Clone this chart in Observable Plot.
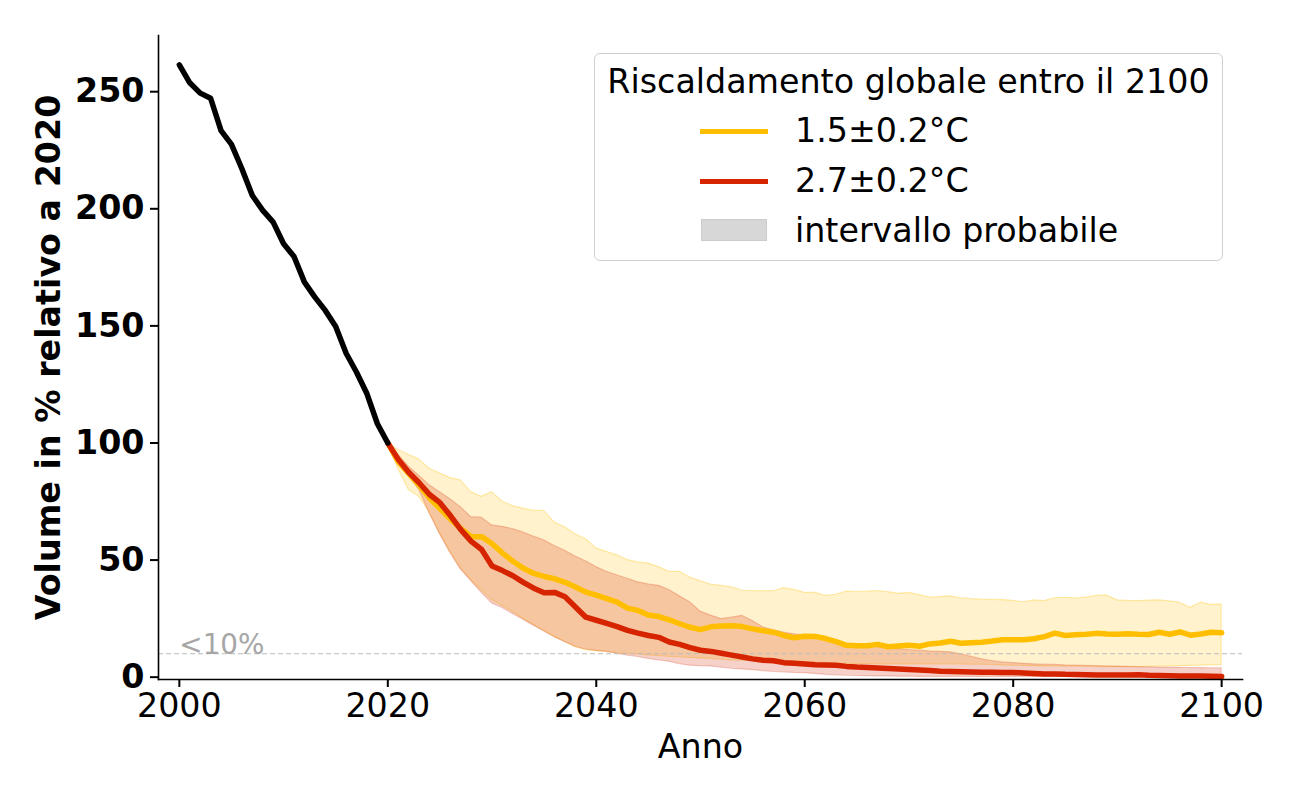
<!DOCTYPE html>
<html>
<head>
<meta charset="utf-8">
<script src="https://cdn.jsdelivr.net/npm/d3@7"></script>
<script src="https://cdn.jsdelivr.net/npm/@observablehq/plot@0.6"></script>
<style>
  body { margin: 0; background: #ffffff; font-family: "DejaVu Sans", sans-serif; }
  #wrap { position: relative; width: 1300px; height: 800px; }
  #legend { position: absolute; left: 594px; top: 53px; width: 627px; height: 206px;
            border: 1px solid #cfcfcf; border-radius: 6px; background: rgba(255,255,255,0.85);
            font-family: "DejaVu Sans", sans-serif; font-size: 33.3px; color: #000; }
  #legend .title { position: absolute; left: 0; right: 0; top: 8px; text-align: center; white-space: nowrap; }
  #legend .item { position: absolute; left: 200px; white-space: nowrap; line-height: 40px; }
  #legend .sw { position: absolute; left: 105px; width: 68px; }
</style>
</head>
<body>
<div id="wrap">
  <div id="chart"></div>
  <div id="legend"></div>
</div>
<script>
// ---- data ----
const histYears = d3.range(2000, 2021);
const histVolume = [261.5, 253.8, 249.4, 247.2, 233.4, 227.5, 217.1, 205.7, 199.3, 194.3,
  185.1, 179.6, 168.7, 162.3, 156.6, 149.7, 138.3, 130.2, 121.0, 108.2, 100];

const futYears = d3.range(2020, 2101);

// 1.5±0.2°C scenario
const yellowMedian = [100, 92, 87, 82, 76.5, 72, 67.5, 63.5, 60, 60,
  57, 53, 49.5, 46.5, 44.3, 43, 42, 40.5, 38.5, 36.3,
  35, 33.5, 32, 29.5, 28.5, 26.5, 25.9, 24.5, 22.8, 21.3,
  20.3, 21.5, 21.8, 22, 21.6, 20.6, 19.8, 19.2, 17.8, 16.8,
  17.5, 17.4, 16.5, 15.2, 13.6, 13.4, 13.4, 14, 13, 13.3,
  13.6, 13.2, 14.2, 14.6, 15.3, 14.5, 14.7, 14.9, 15.4, 16,
  16, 16, 16.4, 17.3, 18.8, 17.8, 18.1, 18.3, 18.7, 18.4,
  18.3, 18.5, 18.3, 18.2, 19.2, 18.3, 19.3, 17.9, 18.4, 19.2, 19];
const yellowLow = [100, 89, 80, 77, 70.5, 61.5, 53.5, 46.5, 41.5, 37,
  33, 30.5, 27.8, 25, 22.3, 19.8, 17.3, 15, 12.8, 11.5,
  11.1, 10.8, 10.3, 10, 9.7, 9.3, 9, 8.7, 8.5, 8.2,
  8, 7.8, 7.5, 7.1, 7, 6.8, 6.7, 6.6, 6.5, 6.4,
  6.3, 6.2, 6, 5.8, 5.7, 5.6, 5.6, 5.5, 5.5, 5.5,
  5.5, 5.5, 5.5, 5.4, 5.4, 5.4, 5.3, 5.3, 5.2, 5,
  4.9, 4.8, 4.7, 4.6, 4.6, 4.5, 4.5, 4.4, 4.4, 4.3,
  4.3, 4.3, 4.3, 4.4, 4.5, 4.6, 4.7, 4.8, 4.9, 5, 5.1];
const yellowHigh = [100, 97, 95, 93, 89, 87, 85, 84, 79, 77,
  79, 75, 73, 72, 71, 71, 66, 64, 61, 59,
  55, 53.5, 52, 50, 49, 48.5, 47, 45, 45, 42.5,
  41, 39.5, 39, 38.4, 37, 36.7, 36.7, 36.7, 38, 37.3,
  36, 36, 34.7, 35.2, 36.5, 36.3, 36.5, 36.8, 36.3, 35.6,
  36, 35, 34, 34.2, 34.5, 33.7, 33.3, 33.1, 33, 32.9,
  32.6, 32, 32.8, 32.5, 33.7, 33.9, 33.6, 34, 34.7, 34.9,
  32.8, 32.6, 32.5, 32.7, 32.8, 32.4, 31.8, 29.6, 31.8, 30.9, 31];

// 2.7±0.2°C scenario
const redMedian = [100, 93, 87.5, 83, 78, 74.5, 69, 63, 58, 54.5,
  47.5, 45.5, 43.3, 40.5, 38, 36, 36.2, 34.3, 30, 25.6,
  24.3, 23, 21.6, 20, 18.8, 17.8, 17, 15, 14, 12.6,
  11.5, 11, 10.2, 9.4, 8.6, 7.8, 7.2, 7, 6.2, 5.9,
  5.6, 5.3, 5.2, 5.1, 4.6, 4.3, 4.1, 3.9, 3.7, 3.5,
  3.3, 3.1, 2.8, 2.5, 2.4, 2.3, 2.2, 2.1, 2.1, 2,
  2, 1.8, 1.6, 1.4, 1.4, 1.2, 1.1, 1, 0.9, 0.9,
  0.9, 0.9, 1, 0.8, 0.7, 0.6, 0.5, 0.5, 0.5, 0.4, 0.3];
const redLow = [100, 91, 86, 80, 70, 61, 53, 46, 41, 36,
  31.5, 29.5, 27, 24.5, 22, 19.5, 17, 15, 13, 11.8,
  11.2, 10.8, 10, 9.2, 8.6, 7.8, 7.2, 6.6, 5.5, 4.9,
  4.7, 4.6, 4.1, 3.6, 3.3, 3, 2.6, 2.2, 2, 1.8,
  1.7, 1.4, 1, 0.8, 0.6, 0.5, 0.4, 0.3, 0.3, 0.2,
  0.2, 0.1, 0.1, 0.1, 0.1, 0.1, 0.1, 0.1, 0.1, 0.1,
  0.1, 0.1, 0.1, 0.1, 0.1, 0.1, 0.1, 0.1, 0.1, 0.1,
  0.1, 0.1, 0.1, 0.1, 0.1, 0.1, 0.1, 0.1, 0.1, 0.1, 0.1];
const redHigh = [100, 95, 90, 86, 82, 79, 76, 72.6, 68.3, 68.1,
  64.8, 64.2, 63.2, 61.8, 60, 58.4, 56, 54, 51.5, 49.5,
  47, 45, 43.5, 42, 40.5, 39.6, 39, 37.2, 34.5, 32,
  28, 26.3, 24.8, 25.4, 26.2, 24, 21.3, 20, 19, 18.3,
  17.8, 17.1, 16, 15.2, 14.3, 13.9, 13.2, 12.8, 12.3, 12,
  11.6, 11.3, 11, 10.8, 10.6, 9.7, 8.7, 7.6, 6.9, 6.3,
  6, 5.7, 5.5, 5.4, 5.3, 5, 4.9, 4.8, 4.7, 4.6,
  4.5, 4.4, 4.3, 4.2, 4.1, 4, 4, 3.9, 3.9, 3.8, 3.8];

const xTicks = [2000, 2020, 2040, 2060, 2080, 2100];
const yTicks = [0, 50, 100, 150, 200, 250];
const thresholdValue = 10;
const thresholdLabel = "<10%";

const yellowColor = "#ffbf00";
const redColor = "#d62400";

const hist = histYears.map((year, i) => ({year, v: histVolume[i]}));
const fut = futYears.map((year, i) => ({
  year, ym: yellowMedian[i], yl: yellowLow[i], yh: yellowHigh[i],
  rm: redMedian[i], rl: redLow[i], rh: redHigh[i]
}));

const chart = Plot.plot({
  width: 1300,
  height: 800,
  marginLeft: 158,
  marginRight: 58,
  marginTop: 35,
  marginBottom: 121,
  style: { fontFamily: "DejaVu Sans, sans-serif", background: "#ffffff", color: "#000" },
  x: { domain: [1998, 2102] },
  y: { domain: [-1, 274] },
  marks: [
    Plot.areaY(fut, { x: "year", y1: "yl", y2: "yh", fill: yellowColor, fillOpacity: 0.2,
      stroke: yellowColor, strokeOpacity: 0.3, strokeWidth: 1.2, curve: "linear" }),
    Plot.areaY(fut, { x: "year", y1: "rl", y2: "rh", fill: redColor, fillOpacity: 0.21,
      stroke: redColor, strokeOpacity: 0.22, strokeWidth: 1.2, curve: "linear" }),
    Plot.ruleY([thresholdValue], { stroke: "#bbbbbb", strokeWidth: 1.2, strokeDasharray: "5,3" }),
    Plot.text([thresholdLabel], { x: xTicks[0], y: thresholdValue, text: d => d, textAnchor: "start",
      lineAnchor: "bottom", fill: "#a6a6a6", fontSize: 27.8 }),
    Plot.line(fut, { x: "year", y: "ym", stroke: yellowColor, strokeWidth: 5.5 }),
    Plot.line(fut, { x: "year", y: "rm", stroke: redColor, strokeWidth: 5.5 }),
    Plot.line(hist, { x: "year", y: "v", stroke: "#000000", strokeWidth: 5.5 }),
    Plot.frame({ anchor: "left", strokeWidth: 1.6 }),
    Plot.frame({ anchor: "bottom", strokeWidth: 1.6 }),
    Plot.axisY({ ticks: yTicks, tickSize: 8, tickPadding: 6, strokeWidth: 2, fontSize: 33.3,
      fontWeight: "bold", label: "Volume in % relativo a 2020", labelAnchor: "center",
      labelArrow: "none", labelOffset: 122 }),
    Plot.axisX({ ticks: xTicks, tickFormat: d3.format("d"), tickSize: 8, tickPadding: 6,
      strokeWidth: 2, fontSize: 33.3, label: "Anno", labelAnchor: "center",
      labelArrow: "none", labelOffset: 78 })
  ]
});
document.getElementById("chart").appendChild(chart);

// ---- legend ----
const legendTitle = "Riscaldamento globale entro il 2100";
const legendItems = [
  { label: "1.5±0.2°C", kind: "line", color: yellowColor },
  { label: "2.7±0.2°C", kind: "line", color: redColor },
  { label: "intervallo probabile", kind: "patch", color: "#d7d7d7" }
];
const legend = document.getElementById("legend");
const t = document.createElement("div");
t.className = "title";
t.textContent = legendTitle;
legend.appendChild(t);
legendItems.forEach((it, i) => {
  const cy = 77 + i * 50;
  const sw = document.createElement("div");
  sw.className = "sw";
  if (it.kind === "line") {
    sw.style.top = (cy - 2.5) + "px";
    sw.style.height = "5px";
    sw.style.background = it.color;
  } else {
    sw.style.top = (cy - 12) + "px";
    sw.style.height = "22px";
    sw.style.left = "106px";
    sw.style.width = "66px";
    sw.style.background = it.color;
    sw.style.boxSizing = "border-box";
    sw.style.border = "1px solid #cccccc";
  }
  legend.appendChild(sw);
  const lab = document.createElement("div");
  lab.className = "item";
  lab.style.top = (cy - 20) + "px";
  lab.textContent = it.label;
  legend.appendChild(lab);
});
</script>
</body>
</html>
